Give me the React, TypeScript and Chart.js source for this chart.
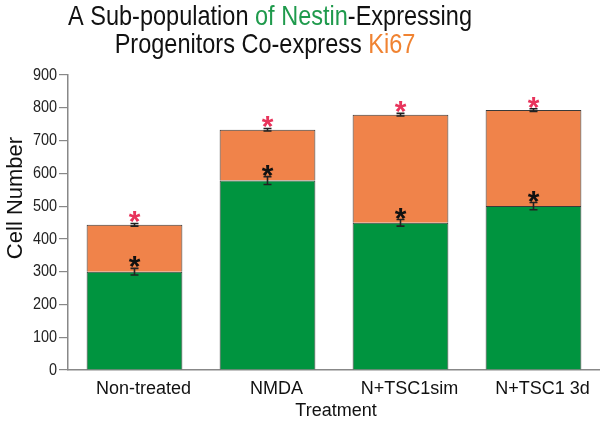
import React, { useEffect, useRef } from "react";
import { Chart, registerables } from "chart.js";

Chart.register(...registerables);

const categories = ["Non-treated", "NMDA", "N+TSC1sim", "N+TSC1 3d"];
const nestinKi67 = [300, 578, 449, 500];
const totalNestin = [443, 733, 779, 793];
const nestinKi67Err = [10, 12, 10, 11];
const totalErr = [4, 4, 4, 4];
const yTicks = [0, 100, 200, 300, 400, 500, 600, 700, 800, 900];
const titleLine1 = [
  { text: "A Sub-population ", color: "#111111" },
  { text: "of Nestin", color: "#1f9a4c" },
  { text: "-Expressing", color: "#111111" },
];
const titleLine2 = [
  { text: "Progenitors Co-express ", color: "#111111" },
  { text: "Ki67", color: "#f08332" },
];
const yTitle = "Cell Number";
const xTitle = "Treatment";

const GREEN = "#00943f";
const ORANGE = "#f0834a";
const FONT = "'Liberation Sans', Arial, sans-serif";

const orangePart = totalNestin.map((t, i) => t - nestinKi67[i]);

const overlayPlugin = {
  id: "overlay",
  afterDraw(chart: any) {
    const ctx = chart.ctx as CanvasRenderingContext2D;
    const x = chart.scales.x;
    const y = chart.scales.y;
    const area = chart.chartArea;
    ctx.save();

    // error bars and asterisks
    const drawErr = (cx: number, v: number, e: number) => {
      const top = y.getPixelForValue(v + e);
      const bot = y.getPixelForValue(v - e);
      ctx.strokeStyle = "#222";
      ctx.lineWidth = 1.6;
      ctx.beginPath();
      ctx.moveTo(cx, top);
      ctx.lineTo(cx, bot);
      ctx.moveTo(cx - 4, top);
      ctx.lineTo(cx + 4, top);
      ctx.moveTo(cx - 4, bot);
      ctx.lineTo(cx + 4, bot);
      ctx.stroke();
      return top;
    };
    const drawStar = (cx: number, cy: number, color: string) => {
      ctx.font = `bold 30px ${FONT}`;
      ctx.fillStyle = color;
      ctx.textAlign = "center";
      ctx.textBaseline = "alphabetic";
      const m = ctx.measureText("*");
      const by = cy + (m.actualBoundingBoxAscent - m.actualBoundingBoxDescent) / 2;
      ctx.fillText("*", cx, by);
    };
    categories.forEach((_, i) => {
      const cx = x.getPixelForValue(i);
      const t1 = drawErr(cx, nestinKi67[i], nestinKi67Err[i]);
      drawStar(cx, t1 - 6, "#111");
      const t2 = drawErr(cx, totalNestin[i], totalErr[i]);
      drawStar(cx, t2 - 6, "#e8345c");
    });

    // y tick labels (condensed)
    ctx.fillStyle = "#222";
    ctx.font = `17px ${FONT}`;
    ctx.textAlign = "right";
    ctx.textBaseline = "middle";
    yTicks.forEach((v) => {
      ctx.save();
      ctx.translate(area.left - 11, y.getPixelForValue(v));
      ctx.scale(0.85, 1);
      ctx.fillText(String(v), 0, 0);
      ctx.restore();
    });

    // x tick labels
    ctx.font = `18px ${FONT}`;
    ctx.fillStyle = "#111";
    ctx.textAlign = "center";
    ctx.textBaseline = "alphabetic";
    categories.forEach((c, i) => {
      ctx.fillText(c, x.getPixelForValue(i) + 9, area.bottom + 24);
    });

    // x title
    ctx.fillText(xTitle, 336, area.bottom + 46);

    // y title
    ctx.save();
    ctx.translate(22, 198);
    ctx.rotate(-Math.PI / 2);
    ctx.font = `22px ${FONT}`;
    ctx.textAlign = "center";
    ctx.textBaseline = "alphabetic";
    ctx.fillText(yTitle, 0, 0);
    ctx.restore();

    // multicolor title (condensed)
    const drawLine = (segs: { text: string; color: string }[], cx: number, by: number) => {
      const sx = 0.84;
      ctx.font = `28px ${FONT}`;
      ctx.textAlign = "left";
      ctx.textBaseline = "alphabetic";
      const w = segs.reduce((s, g) => s + ctx.measureText(g.text).width, 0);
      ctx.save();
      ctx.translate(cx - (w * sx) / 2, by);
      ctx.scale(sx, 1);
      let px = 0;
      segs.forEach((g) => {
        ctx.fillStyle = g.color;
        ctx.fillText(g.text, px, 0);
        px += ctx.measureText(g.text).width;
      });
      ctx.restore();
    };
    drawLine(titleLine1, 270, 25);
    drawLine(titleLine2, 265, 53);

    ctx.restore();
  },
};

export default function App() {
  const ref = useRef<HTMLCanvasElement | null>(null);
  useEffect(() => {
    document.body.style.margin = "0";
    const chart = new Chart(ref.current as HTMLCanvasElement, {
      type: "bar",
      data: {
        labels: categories,
        datasets: [
          {
            label: "Nestin+ Ki67+",
            data: nestinKi67,
            backgroundColor: GREEN,
            borderColor: "#3a3a3a",
            borderWidth: 1,
          },
          {
            label: "Nestin+",
            data: orangePart,
            backgroundColor: ORANGE,
            borderColor: "#3a3a3a",
            borderWidth: 1,
          },
        ],
      },
      options: {
        animation: false,
        responsive: false,
        layout: { padding: { top: 75, bottom: 50, left: 0, right: 0 } },
        plugins: { legend: { display: false }, tooltip: { enabled: false }, title: { display: false } },
        scales: {
          x: {
            stacked: true,
            categoryPercentage: 1,
            barPercentage: 0.65,
            ticks: { display: false },
            grid: { display: false },
            border: { display: true, color: "#888", width: 1.5 },
          } as any,
          y: {
            stacked: true,
            min: 0,
            max: 900,
            afterBuildTicks: (s: any) => {
              s.ticks = yTicks.map((v) => ({ value: v }));
            },
            afterFit: (s: any) => {
              s.width = 68;
            },
            ticks: {
              color: "rgba(0,0,0,0)",
              font: { family: FONT, size: 15 },
              padding: 2,
            },
            grid: {
              drawOnChartArea: false,
              drawTicks: true,
              tickLength: 9,
              color: "#888",
              lineWidth: 1.2,
            },
            border: { display: true, color: "#888", width: 1.5 },
          },
        },
      },
      plugins: [overlayPlugin],
    });
    return () => chart.destroy();
  }, []);
  return <canvas ref={ref} width={600} height={428} style={{ display: "block" }} />;
}
